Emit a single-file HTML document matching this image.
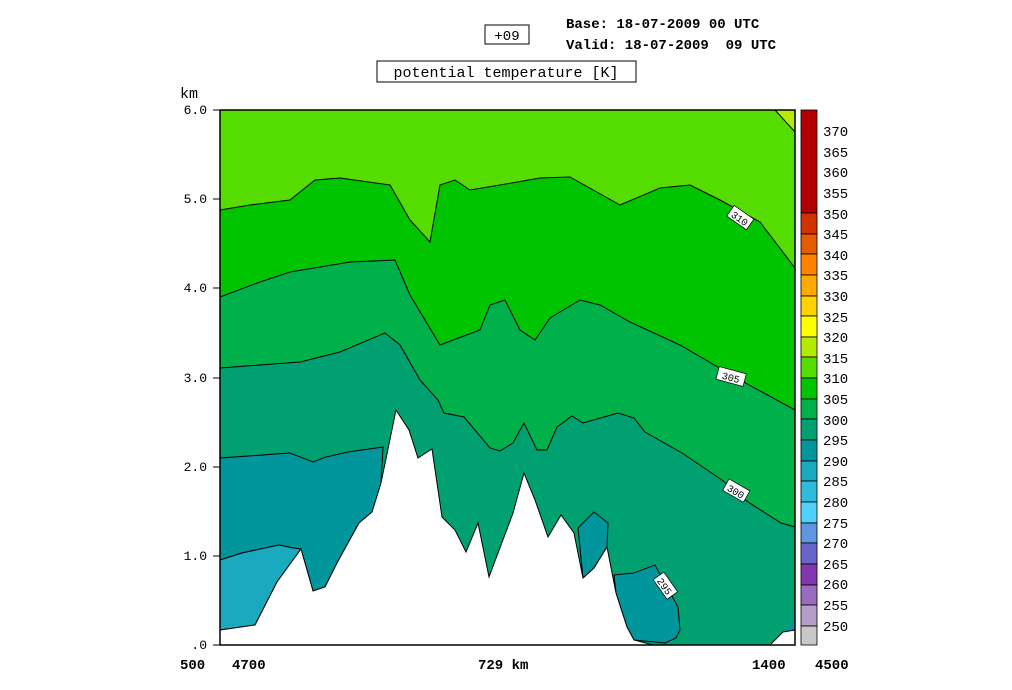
<!DOCTYPE html>
<html><head><meta charset="utf-8"><style>
body{margin:0;background:#fff;}
svg text{font-family:"Liberation Mono",monospace;fill:#000;}
</style></head><body>
<svg width="1012" height="685" viewBox="0 0 1012 685" xmlns="http://www.w3.org/2000/svg">
<rect x="220" y="110" width="575" height="535" fill="#00a070"/>
<polygon fill="#00b04a" points="220,110 795,110 795,527 781,523 748,502 722,480 682,453 645,432 634,418 618,413 583,423 572,416 557,427 547,450 537,450 524,423 513,443 500,451 490,448 464,417 444,413 438,400 420,380 400,345 385,333 340,352 300,362 260,365 220,368"/>
<polygon fill="#00c400" points="220,110 795,110 795,410 740,380 680,345 630,322 600,305 580,300 550,318 535,340 520,330 505,300 490,305 480,330 440,345 410,295 395,260 350,262 290,272 260,282 220,297"/>
<polygon fill="#55dc00" points="220,110 795,110 795,268 760,222 720,200 690,185 660,188 620,205 570,177 540,178 500,185 470,190 455,180 440,185 430,242 410,220 390,185 340,178 315,180 290,200 250,205 220,210"/>
<polygon fill="#b4eb00" points="775,110 795,110 795,132"/>
<g fill="none" stroke="#000" stroke-width="1">
<polyline points="220,210 250,205 290,200 315,180 340,178 390,185 410,220 430,242 440,185 455,180 470,190 500,185 540,178 570,177 620,205 660,188 690,185 720,200 760,222 795,268"/>
<polyline points="220,297 260,282 290,272 350,262 395,260 410,295 440,345 480,330 490,305 505,300 520,330 535,340 550,318 580,300 600,305 630,322 680,345 740,380 795,410"/>
<polyline points="220,368 260,365 300,362 340,352 385,333 400,345 420,380 438,400 444,413 464,417 490,448 500,451 513,443 524,423 537,450 547,450 557,427 572,416 583,423 618,413 634,418 645,432 682,453 722,480 748,502 781,523 795,527"/>
<polyline points="775,110 795,132"/>
</g>
<polygon fill="#00969b" stroke="#000" stroke-width="1" points="220,458 290,453 313,462 326,457 348,452 383,447 381,483 372,512 359,523 337,563 325,587 313,591 301,549 293,548 279,545 242,553 220,560"/>
<polygon fill="#1aaac0" stroke="#000" stroke-width="1" points="220,560 242,553 279,545 293,548 301,549 277,582 255,625 220,630"/>
<polygon fill="#00969b" stroke="#000" stroke-width="1" points="578,528 594,512 608,523 607,547 594,568 583,578"/>
<polygon fill="#00969b" stroke="#000" stroke-width="1" points="614,575 634,573 655,565 678,607 680,630 676,638 665,643 634,640 627,627 616,593"/>
<polygon fill="#00969b" points="783,632 795,618 795,632"/>
<polygon fill="#fff" stroke="#000" stroke-width="1" points="220,630 255,625 277,582 301,549 313,591 325,587 337,563 359,523 372,512 381,483 396,410 409,430 418,458 432,449 442,517 455,530 466,552 478,523 489,577 513,513 524,473 535,500 548,537 561,515 574,533 583,578 594,568 607,547 616,593 627,627 634,640 653,645 220,645"/>
<polygon fill="#fff" stroke="#000" stroke-width="1" points="770,645 783,632 795,630 795,645"/>
<g font-size="10">
<g transform="translate(740,218) rotate(35)"><rect x="-12" y="-7" width="24" height="13" fill="#fff" stroke="#000" stroke-width="0.7"/><text x="0" y="4" text-anchor="middle">310</text></g>
<g transform="translate(731,377) rotate(15)"><rect x="-14" y="-7" width="28" height="13" fill="#fff" stroke="#000" stroke-width="0.7"/><text x="0" y="4" text-anchor="middle">305</text></g>
<g transform="translate(736,491) rotate(30)"><rect x="-12" y="-7" width="24" height="13" fill="#fff" stroke="#000" stroke-width="0.7"/><text x="0" y="4" text-anchor="middle">300</text></g>
<g transform="translate(665,586) rotate(55)"><rect x="-12" y="-7" width="24" height="13" fill="#fff" stroke="#000" stroke-width="0.7"/><text x="0" y="4" text-anchor="middle">295</text></g>
</g>
<rect x="220" y="110" width="575" height="535" fill="none" stroke="#000" stroke-width="1.5"/>
<g stroke="#000" stroke-width="1">
<line x1="213" y1="110" x2="220" y2="110"/><line x1="213" y1="199" x2="220" y2="199"/><line x1="213" y1="288" x2="220" y2="288"/><line x1="213" y1="378" x2="220" y2="378"/><line x1="213" y1="467" x2="220" y2="467"/><line x1="213" y1="556" x2="220" y2="556"/><line x1="213" y1="645" x2="220" y2="645"/>
</g>
<g font-size="13" text-anchor="end">
<text x="207" y="114">6.0</text><text x="207" y="203">5.0</text><text x="207" y="292">4.0</text><text x="207" y="382">3.0</text><text x="207" y="471">2.0</text><text x="207" y="560">1.0</text><text x="207" y="649">.0</text>
</g>
<text x="180" y="98" font-size="15" font-family="Liberation Serif">km</text>
<g font-size="14" font-weight="bold">
<text x="180" y="669">500</text><text x="232" y="669">4700</text><text x="478" y="669">729 km</text><text x="752" y="669">1400</text><text x="815" y="669">4500</text>
</g>
<rect x="485" y="25" width="44" height="19" fill="#fff" stroke="#000" stroke-width="1"/>
<text x="507" y="40" font-size="14" text-anchor="middle">+09</text>
<text x="566" y="28" font-size="14" font-weight="bold">Base: 18-07-2009  00 UTC</text>
<text x="566" y="49" font-size="14" font-weight="bold" xml:space="preserve">Valid: 18-07-2009  09 UTC</text>
<rect x="377" y="61" width="259" height="21" fill="#fff" stroke="#000" stroke-width="1"/>
<text x="506" y="77" font-size="15" text-anchor="middle">potential temperature [K]</text>
<g stroke="#000" stroke-width="0.8">
<rect x="801" y="110" width="16" height="103" fill="#b40000"/>
<rect x="801" y="213" width="16" height="21" fill="#d23200"/>
<rect x="801" y="234" width="16" height="20" fill="#e65a00"/>
<rect x="801" y="254" width="16" height="21" fill="#ff8200"/>
<rect x="801" y="275" width="16" height="21" fill="#ffaa00"/>
<rect x="801" y="296" width="16" height="20" fill="#ffd200"/>
<rect x="801" y="316" width="16" height="21" fill="#ffff00"/>
<rect x="801" y="337" width="16" height="20" fill="#b4eb00"/>
<rect x="801" y="357" width="16" height="21" fill="#55dc00"/>
<rect x="801" y="378" width="16" height="21" fill="#00c400"/>
<rect x="801" y="399" width="16" height="20" fill="#00b04a"/>
<rect x="801" y="419" width="16" height="21" fill="#00a070"/>
<rect x="801" y="440" width="16" height="21" fill="#00969b"/>
<rect x="801" y="461" width="16" height="20" fill="#1aaac0"/>
<rect x="801" y="481" width="16" height="21" fill="#2fbcdc"/>
<rect x="801" y="502" width="16" height="21" fill="#4fd0ff"/>
<rect x="801" y="523" width="16" height="20" fill="#5f96e0"/>
<rect x="801" y="543" width="16" height="21" fill="#6a64c8"/>
<rect x="801" y="564" width="16" height="21" fill="#8236b0"/>
<rect x="801" y="585" width="16" height="20" fill="#9b6bbf"/>
<rect x="801" y="605" width="16" height="21" fill="#b49ec8"/>
<rect x="801" y="626" width="16" height="19" fill="#c8c8c8"/>
</g>
<g font-size="14" font-family="Liberation Sans">
<text x="823" y="136">370</text><text x="823" y="157">365</text><text x="823" y="177">360</text><text x="823" y="198">355</text><text x="823" y="219">350</text><text x="823" y="239">345</text><text x="823" y="260">340</text><text x="823" y="280">335</text><text x="823" y="301">330</text><text x="823" y="322">325</text><text x="823" y="342">320</text><text x="823" y="363">315</text><text x="823" y="383">310</text><text x="823" y="404">305</text><text x="823" y="425">300</text><text x="823" y="445">295</text><text x="823" y="466">290</text><text x="823" y="486">285</text><text x="823" y="507">280</text><text x="823" y="528">275</text><text x="823" y="548">270</text><text x="823" y="569">265</text><text x="823" y="589">260</text><text x="823" y="610">255</text><text x="823" y="631">250</text>
</g>
</svg>
</body></html>
